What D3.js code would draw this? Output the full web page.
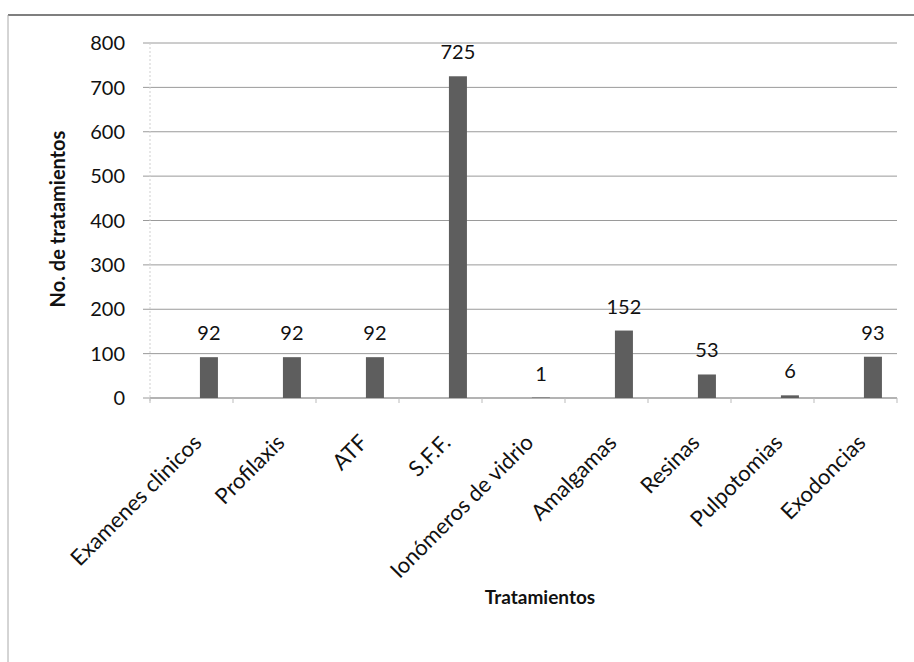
<!DOCTYPE html>
<html><head><meta charset="utf-8">
<script src="https://cdn.jsdelivr.net/npm/d3@7"></script>
<style>body{margin:0;background:#fff}svg{display:block}text{font-family:Lato,"Open Sans",sans-serif;fill:#111}</style>
</head><body><svg id="c" width="914" height="662"></svg>
<script>
const categories = ["Examenes clinicos","Profilaxis","ATF","S.F.F.","Ionómeros de vidrio","Amalgamas","Resinas","Pulpotomias","Exodoncias"];
const values = [92,92,92,725,1,152,53,6,93];
const yTicks = [0,100,200,300,400,500,600,700,800];
const yTitle = "No. de tratamientos";
const xTitle = "Tratamientos";

const svg = d3.select("#c");
const m = {left:150, right:897, top:43, bottom:398};
const x = d3.scaleBand().domain(categories).range([m.left, m.right]).padding(0);
const y = d3.scaleLinear().domain([0,800]).range([m.bottom, m.top]);

// frame
svg.append("line").attr("x1",8).attr("x2",914).attr("y1",15).attr("y2",15).attr("stroke","#555").attr("stroke-width",1.5);
svg.append("line").attr("x1",8).attr("x2",8).attr("y1",15).attr("y2",662).attr("stroke","#aaa").attr("stroke-width",1);

// gridlines
svg.append("g").selectAll("line").data(yTicks).join("line")
  .attr("x1",m.left-7).attr("x2",m.right).attr("y1",d=>y(d)).attr("y2",d=>y(d))
  .attr("stroke","#9a9a9a").attr("stroke-width",1);
svg.append("line").attr("x1",m.left).attr("x2",m.left).attr("y1",m.top).attr("y2",m.bottom+4).attr("stroke","#cfcfcf").attr("stroke-dasharray","2,2");

// x axis ticks
const gx = svg.append("g").attr("transform",`translate(0,${m.bottom})`);
gx.append("line").attr("x1",m.left).attr("x2",m.right).attr("stroke","#999");
gx.selectAll("line.t").data(d3.range(categories.length+1)).join("line").attr("class","t")
  .attr("x1",i=>m.left+i*x.step()).attr("x2",i=>m.left+i*x.step()).attr("y1",0).attr("y2",5).attr("stroke","#bbb");

// y tick labels
svg.append("g").selectAll("text").data(yTicks).join("text")
  .attr("x",125).attr("y",d=>y(d)).attr("dy","0.36em").attr("text-anchor","end")
  .attr("font-size",20).text(d=>d);

// bars
const bw = 18, off = 0.71;
svg.append("g").selectAll("rect").data(values).join("rect")
  .attr("x",(d,i)=>x(categories[i])+x.bandwidth()*off-bw/2)
  .attr("y",d=>y(d)).attr("width",bw).attr("height",d=>y(0)-y(d))
  .attr("fill","#5e5e5e");

// value labels
svg.append("g").selectAll("text").data(values).join("text")
  .attr("x",(d,i)=>x(categories[i])+x.bandwidth()*off)
  .attr("y",d=>y(d)-17).attr("text-anchor","middle").attr("font-size",20).text(d=>d);

// category labels
svg.append("g").selectAll("text").data(categories).join("text")
  .attr("transform",(d)=>`translate(${x(d)+x.bandwidth()*off-6},${m.bottom+46}) rotate(-45)`)
  .attr("text-anchor","end").attr("font-size",22).text(d=>d);

// titles
svg.append("text").attr("transform",`translate(58,219) rotate(-90)`).attr("dy","0.35em")
  .attr("text-anchor","middle").attr("font-weight","bold").attr("font-size",20).text(yTitle);
svg.append("text").attr("x",540).attr("y",604).attr("text-anchor","middle")
  .attr("font-weight","bold").attr("font-size",19).text(xTitle);
</script></body></html>
